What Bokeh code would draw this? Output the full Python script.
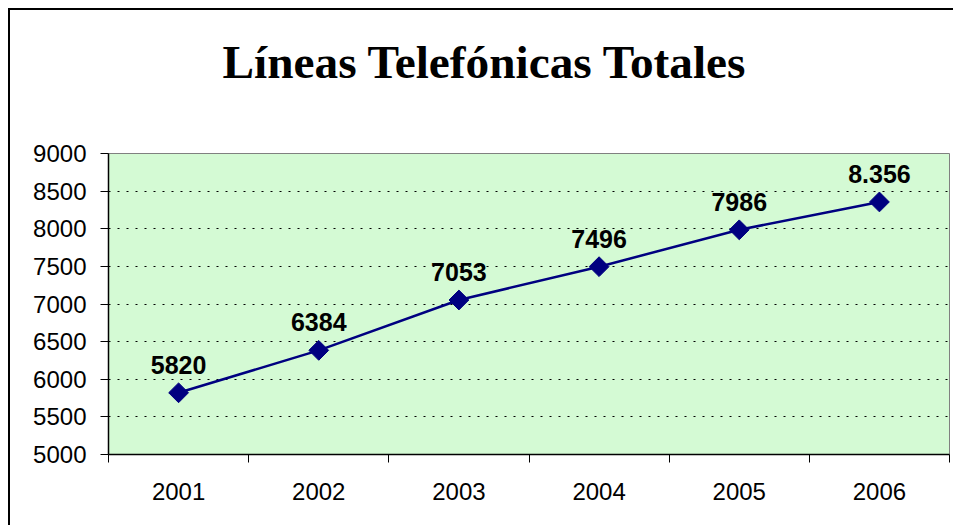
import numpy as np
from bokeh.plotting import figure
from bokeh.models import ColumnDataSource, FixedTicker, Range1d, Title
from bokeh.core.properties import value
from bokeh.embed import file_html
from bokeh.resources import INLINE

# ---- data ----
years = ["2001", "2002", "2003", "2004", "2005", "2006"]
lines_total = [5820, 6384, 7053, 7496, 7986, 8356]
value_labels = ["5820", "6384", "7053", "7496", "7986", "8.356"]
y_ticks = [5000, 5500, 6000, 6500, 7000, 7500, 8000, 8500, 9000]
title_text = "Líneas Telefónicas Totales"

xpos = np.arange(len(years)) + 0.5
src = ColumnDataSource(dict(x=xpos, y=lines_total, lab=value_labels))

p = figure(width=945, height=517, output_backend="svg", toolbar_location=None,
           x_range=Range1d(0, len(years)), y_range=Range1d(y_ticks[0], y_ticks[-1]),
           min_border_left=98, min_border_right=6, min_border_top=143, min_border_bottom=73)
p.styles = {"margin-top": "8px", "margin-left": "8px",
            "border-top": "2px solid black", "border-left": "2px solid black"}

p.background_fill_color = "#D4FAD4"
p.border_fill_color = "white"
p.outline_line_color = "#808080"
p.outline_line_width = 1

# title: a blank spacer title sits between the frame and the real title
p.add_layout(Title(text=" ", text_font_size="2px", standoff=57), "above")
p.title = Title(text=title_text, align="left", offset=114,
                text_font="Liberation Serif", text_font_size="47.3px",
                text_font_style="bold", text_color="black", standoff=10)

# grid
p.xgrid.visible = False
p.ygrid.ticker = FixedTicker(ticks=y_ticks)
p.ygrid.grid_line_color = "black"
p.ygrid.grid_line_dash = "2 7"
p.ygrid.grid_line_width = 1

# x axis
xa = p.xaxis[0]
xa.ticker = FixedTicker(ticks=list(xpos), minor_ticks=list(range(len(years) + 1)))
xa.major_label_overrides = {float(x): y for x, y in zip(xpos, years)}
xa.major_tick_out = 0
xa.major_tick_in = 0
xa.minor_tick_out = 8
xa.minor_tick_in = 0
xa.minor_tick_line_color = "black"
xa.axis_line_color = "black"
xa.axis_line_width = 1.5
xa.major_label_text_font = "Liberation Sans"
xa.major_label_text_font_size = "24px"
xa.major_label_text_color = "black"
xa.major_label_standoff = 20

# y axis
ya = p.yaxis[0]
ya.ticker = FixedTicker(ticks=y_ticks)
ya.major_tick_out = 8
ya.major_tick_in = 0
ya.minor_tick_line_color = None
ya.axis_line_color = "black"
ya.axis_line_width = 1.5
ya.major_tick_line_color = "black"
ya.major_label_text_font = "Liberation Sans"
ya.major_label_text_font_size = "24px"
ya.major_label_text_color = "black"
ya.major_label_standoff = 14

# series
p.line("x", "y", source=src, line_color="#000080", line_width=2.5)
p.scatter("x", "y", source=src, marker="square", angle=np.pi / 4, size=14,
          fill_color="#000080", line_color="#000080", line_width=1)
p.text("x", "y", text="lab", source=src, text_align="center",
       text_baseline="alphabetic", y_offset=-28,
       text_font=value("Liberation Sans"), text_font_style="bold",
       text_font_size="25px", text_color="black")

open("out.html", "w").write(file_html(p, INLINE))
